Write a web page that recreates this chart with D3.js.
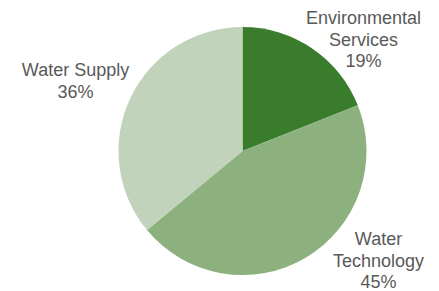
<!DOCTYPE html>
<html>
<head>
<meta charset="utf-8">
<script src="https://cdn.jsdelivr.net/npm/d3@7"></script>
<style>
  body { margin: 0; background: #fff; }
  text { font-family: Arial, "Liberation Sans", sans-serif; fill: #595959; }
</style>
</head>
<body>
<svg id="pie"></svg>
<script>
var categories = ["Environmental Services", "Water Technology", "Water Supply"];
var shares = [19, 45, 36];
var colors = ["#387c2c", "#8db17e", "#c1d4bb"];
// label lines per slice
var labelLines = [["Environmental", "Services", "19%"], ["Water", "Technology", "45%"], ["Water Supply", "36%"]];

var screen = {width: 439, height: 291};
var center = {x: 242.5, y: 151};
var radius = 124;

var svg = d3.select("#pie")
    .attr("width", screen.width)
    .attr("height", screen.height);

var data = categories.map(function(c, i) {
    return {name: c, value: shares[i], color: colors[i], lines: labelLines[i]};
});

var pie = d3.pie()
    .sort(null)
    .value(function(d) { return d.value; });

var arc = d3.arc()
    .innerRadius(0)
    .outerRadius(radius);

var g = svg.append("g")
    .attr("transform", "translate(" + center.x + "," + center.y + ")");

var arcs = pie(data);

g.selectAll("path")
    .data(arcs)
    .enter()
    .append("path")
    .attr("d", arc)
    .attr("fill", function(d) { return d.data.color; });

// where the label blocks sit (center x, first baseline), relative to pie center
var labelPos = [
    {x: 121, y: -127},
    {x: 136, y: 94},
    {x: -167, y: -75}
];
var lineH = 21.5;

var labels = g.selectAll("text.label")
    .data(arcs)
    .enter()
    .append("text")
    .classed("label", true)
    .attr("text-anchor", "middle")
    .style("font-size", "18px");

labels.each(function(d, i) {
    var t = d3.select(this);
    d.data.lines.forEach(function(line, j) {
        t.append("tspan")
            .attr("x", labelPos[i].x)
            .attr("y", labelPos[i].y + j * lineH)
            .text(line);
    });
});
</script>
</body>
</html>
